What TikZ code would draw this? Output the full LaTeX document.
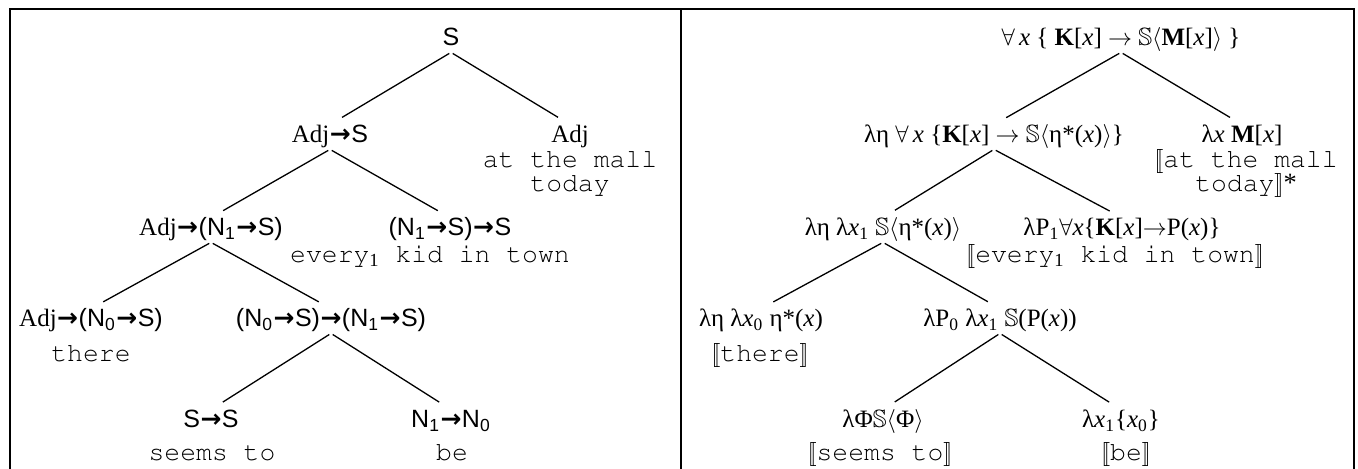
\documentclass[tikz,border=0pt]{standalone}
\usepackage{amssymb}
\usepackage{fontspec}
\setmainfont{Liberation Serif}
\setsansfont{Liberation Sans}
\newfontfamily\arrfont{DejaVu Sans}
\newcommand\cour{\fontencoding{OT1}\fontfamily{pcr}\selectfont}
\newcommand\rarr{{\arrfont\bfseries\kern0.02em→\kern0.02em}}
\newcommand\dlb{{\rmfamily$[\![$}}
\newcommand\drb{{\rmfamily$]\!]$}}
\newcommand\sbb{$\mathbb{S}$}
\newcommand\la{$\langle$}
\newcommand\ra{$\rangle$}
\newcommand\vx{\textit{x}}
\newcommand\sbs[1]{{\rmfamily\textsubscript{#1}}}
\newcommand\ssf[1]{{\sffamily #1}}
\tikzset{
  lab/.style={anchor=base, inner sep=0pt, text height=9pt, text depth=3pt, font=\fontsize{12.5}{14}\selectfont},
  word/.style={anchor=base, inner sep=0pt, font=\fontsize{13.2}{15}\cour},
  br/.style={line width=0.65pt, shorten <=1pt, shorten >=7pt},
  frame/.style={line width=1pt}
}
\begin{document}
\begin{tikzpicture}[x=0.5pt, y=-0.5pt]
\useasboundingbox (0,0) rectangle (1358,469);
% frame
\draw[frame] (9.7,469) -- (9.7,9.5) -- (1353.5,9.5) -- (1353.5,469);
\draw[frame] (681,9.5) -- (681,469);
% ---------- left tree ----------
\node[lab] (l0) at (451,46) {\ssf{S}};
\node[lab] (l1a) at (330,143) {Adj\rarr\ssf{S}};
\node[lab] (l1b) at (570,143) {Adj};
\node[word] (w1b1) at (570,168) {at the mall};
\node[word] (w1b2) at (570,192) {today};
\node[lab] (l2a) at (211,236) {Adj\rarr\ssf{(N\textsubscript{1}}\rarr\ssf{S)}};
\node[lab] (l2b) at (450,236) {\ssf{(N\textsubscript{1}}\rarr\ssf{S)}\rarr\ssf{S}};
\node[word] (w2b) at (430,263) {every\sbs{1} kid in town};
\node[lab] (l3a) at (91,327) {Adj\rarr\ssf{(N\textsubscript{0}}\rarr\ssf{S)}};
\node[word] (w3a) at (91,362) {there};
\node[lab] (l3b) at (331,327) {\ssf{(N\textsubscript{0}}\rarr\ssf{S)}\rarr\ssf{(N\textsubscript{1}}\rarr\ssf{S)}};
\node[lab] (l4a) at (211,428) {\ssf{S}\rarr\ssf{S}};
\node[word] (w4a) at (212,460) {seems to};
\node[lab] (l4b) at (451,428) {\ssf{N\textsubscript{1}}\rarr\ssf{N\textsubscript{0}}};
\node[word] (w4b) at (452,460) {be};
\draw[br] (l0.south) -- (l1a.north);
\draw[br] (l0.south) -- (l1b.north);
\draw[br] (l1a.south) -- (l2a.north);
\draw[br] (l1a.south) -- (l2b.north);
\draw[br] (l2a.south) -- (l3a.north);
\draw[br] (l2a.south) -- (l3b.north);
\draw[br] (l3b.south) -- (l4a.north);
\draw[br] (l3b.south) -- (l4b.north);
% ---------- right tree ----------
\node[lab] (r0) at (1121,46) {$\forall$\,\vx{} \{ \textbf{K}[\vx] $\rightarrow$ \sbb\la\textbf{M}[\vx]\ra{} \}};
\node[lab] (r1a) at (994,143) {λη $\forall$\,\vx{} \{\textbf{K}[\vx] $\rightarrow$ \sbb\la η*(\vx)\ra\}};
\node[lab] (r1b) at (1242,143) {λ\vx{} \textbf{M}[\vx]};
\node[word] (v1b1) at (1246,168) {\dlb at the mall};
\node[word] (v1b2) at (1246,192) {today\drb{\rmfamily*}};
\node[lab] (r2a) at (883,236) {λη λ\vx\sbs{1} \sbb\la η*(\vx)\ra};
\node[lab] (r2b) at (1122,236) {λP\sbs{1}$\forall$\vx\{\textbf{K}[\vx]$\rightarrow$P(\vx)\}};
\node[word] (v2b) at (1115,263) {\dlb every\sbs{1} kid in town\drb};
\node[lab] (r3a) at (761,327) {λη λ\vx\sbs{0} η*(\vx)};
\node[word] (v3a) at (760,362) {\dlb there\drb};
\node[lab] (r3b) at (1000,327) {λP\sbs{0} λ\vx\sbs{1} \sbb(P(\vx))};
\node[lab] (r4a) at (883,428) {λΦ\sbb\la Φ\ra};
\node[word] (v4a) at (880,460) {\dlb seems to\drb};
\node[lab] (r4b) at (1121,428) {λ\vx\sbs{1}\{\vx\sbs{0}\}};
\node[word] (v4b) at (1126,460) {\dlb be\drb};
\draw[br] (r0.south) -- (r1a.north);
\draw[br] (r0.south) -- (r1b.north);
\draw[br] (r1a.south) -- (r2a.north);
\draw[br] (r1a.south) -- (r2b.north);
\draw[br] (r2a.south) -- (r3a.north);
\draw[br] (r2a.south) -- (r3b.north);
\draw[br] (r3b.south) -- (r4a.north);
\draw[br] (r3b.south) -- (r4b.north);
\end{tikzpicture}
\end{document}
